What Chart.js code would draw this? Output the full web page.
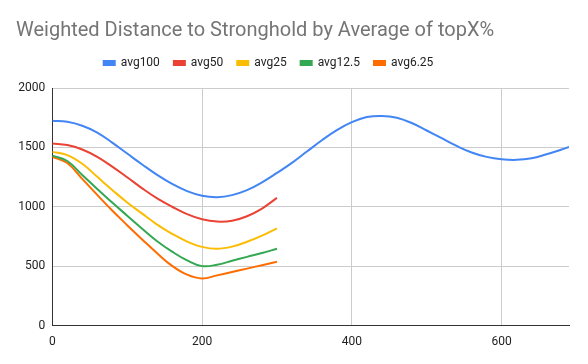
<!DOCTYPE html>
<html>
<head>
<meta charset="utf-8">
<script src="https://cdn.jsdelivr.net/npm/chart.js@4/dist/chart.umd.min.js"></script>
<style>
  html, body { margin: 0; padding: 0; background: #ffffff; }
  #wrap { width: 588px; height: 364px; position: relative; }
</style>
</head>
<body>
<div id="wrap"><canvas id="c" width="588" height="364"></canvas></div>
<script>
const titleText = 'Weighted Distance to Stronghold by Average of topX%';
const seriesNames = ['avg100', 'avg50', 'avg25', 'avg12.5', 'avg6.25'];
const seriesColors = ['#4285F4', '#EA4335', '#FBBC04', '#34A853', '#FF6D01'];

const xLong = [0, 20, 40, 60, 80, 100, 120, 140, 160, 180, 200, 220, 240, 260, 280, 300, 320, 340,
               360, 380, 400, 420, 440, 460, 480, 500, 520, 540, 560, 580, 600, 620, 640, 660, 680, 690];
const avg100 = [1725, 1715, 1682, 1625, 1540, 1448, 1356, 1268, 1192, 1132, 1093, 1081, 1098, 1140, 1205, 1285, 1370, 1465,
                1560, 1645, 1712, 1755, 1765, 1750, 1705, 1642, 1577, 1512, 1457, 1420, 1400, 1395, 1408, 1442, 1482, 1504];

const xShort = [0, 20, 40, 60, 80, 100, 120, 140, 160, 180, 200, 220, 240, 260, 280, 300];
const avg50   = [1532, 1520, 1482, 1420, 1338, 1248, 1155, 1070, 1000, 938, 895, 875, 882, 920, 985, 1075];
const avg25   = [1462, 1435, 1362, 1252, 1142, 1036, 942, 850, 772, 707, 662, 646, 664, 705, 757, 818];
const avg12_5 = [1431, 1385, 1268, 1150, 1035, 925, 815, 710, 622, 548, 500, 512, 545, 578, 610, 646];
const avg6_25 = [1420, 1368, 1235, 1100, 968, 845, 725, 608, 502, 428, 396, 422, 450, 479, 508, 536];

const xTicks = [0, 200, 400, 600];
const yTicks = [0, 500, 1000, 1500, 2000];
const xMax = 690;

function pts(xs, ys) { return xs.map((x, i) => ({ x: x, y: ys[i] })); }

const seriesData = [pts(xLong, avg100), pts(xShort, avg50), pts(xShort, avg25), pts(xShort, avg12_5), pts(xShort, avg6_25)];

const datasets = seriesNames.map((name, i) => ({
  label: name,
  data: seriesData[i],
  borderColor: seriesColors[i],
  backgroundColor: seriesColors[i],
  borderWidth: 2,
  pointRadius: 0,
  pointHoverRadius: 0,
  fill: false,
  tension: 0.4
}));

const legendAdjust = {
  id: 'legendAdjust',
  beforeLayout(chart) {
    const l = chart.legend;
    if (l && !l._patched) {
      const orig = l.fit.bind(l);
      l.fit = function () { orig(); this.height += 9; };
      l._patched = true;
    }
  },
  afterLayout(chart) {
    const l = chart.legend;
    if (l) { l.left -= 24; l.right -= 24; }
  }
};

const FONT = 'Roboto, "Liberation Sans", Arial, sans-serif';

new Chart(document.getElementById('c'), {
  type: 'line',
  data: { datasets: datasets },
  plugins: [legendAdjust],
  options: {
    responsive: false,
    animation: false,
    devicePixelRatio: 1,
    layout: { padding: { left: 16, right: 19, top: 0, bottom: 0 } },
    plugins: {
      title: {
        display: true,
        text: titleText,
        align: 'start',
        color: '#757575',
        font: { family: FONT, size: 20, weight: 'normal' },
        padding: { top: 19, bottom: 0 }
      },
      legend: {
        display: true,
        position: 'top',
        align: 'center',
        labels: {
          boxWidth: 11,
          boxHeight: 4,
          padding: 14,
          color: '#222222',
          font: { family: FONT, size: 12 }
        }
      },
      tooltip: { enabled: false }
    },
    scales: {
      x: {
        type: 'linear',
        min: 0,
        max: xMax,
        afterBuildTicks(scale) { scale.ticks = xTicks.map(v => ({ value: v })); },
        afterFit(scale) { scale.height = 38.5; },
        grid: { color: '#cccccc', drawTicks: false, lineWidth: 1 },
        border: { display: true, color: '#333333', width: 1 },
        ticks: { padding: 9, color: '#222222', font: { family: FONT, size: 12 }, maxRotation: 0,
                 callback: (v) => String(v) }
      },
      y: {
        type: 'linear',
        min: 0,
        max: 2000,
        afterBuildTicks(scale) { scale.ticks = yTicks.map(v => ({ value: v })); },
        afterFit(scale) { scale.width = 36.3; },
        grid: { color: '#cccccc', drawTicks: false, lineWidth: 1 },
        border: { display: true, color: '#333333', width: 1 },
        ticks: { padding: 7, color: '#222222', font: { family: FONT, size: 12 },
                 callback: (v) => String(v) }
      }
    }
  }
});
</script>
</body>
</html>
